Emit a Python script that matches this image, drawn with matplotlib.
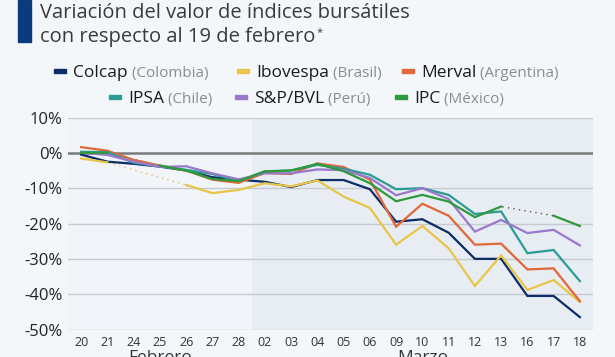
import numpy as np
import matplotlib.pyplot as plt
from matplotlib.patches import Rectangle

plt.rcParams['font.family'] = ['Open Sans', 'DejaVu Sans']

nan = np.nan
days = ['20', '21', '24', '25', '26', '27', '28', '02', '03', '04',
        '05', '06', '09', '10', '11', '12', '13', '16', '17', '18']
months = ['Febrero', 'Marzo']
month_len = [7, 13]

colcap = [-0.5, -2.5, -3.1, -3.9, -5.0, -6.9, -7.6, -8.2, -9.7, -7.7,
          -7.7, -10.3, -19.5, -18.8, -22.6, -30.0, -30.0, -40.5, -40.5, -46.5]
ibovespa = [-1.6, -2.7, nan, nan, -9.1, -11.4, -10.5, -8.6, -9.5, -7.8,
            -12.4, -15.6, -26.0, -20.7, -27.0, -37.7, -29.0, -38.8, -36.0, -42.2]
merval = [1.6, 0.6, -2.0, -3.6, -5.0, -7.6, -8.5, -5.7, -6.0, -3.0,
          -4.0, -7.6, -20.9, -14.4, -17.8, -26.0, -25.7, -33.0, -32.7, -42.0]
ipsa = [0.3, 0.2, -2.8, -3.8, -4.8, -6.0, -8.0, -5.2, -5.0, -3.4,
        -4.5, -6.2, -10.3, -10.0, -11.9, -17.3, -16.6, -28.4, -27.5, -36.3]
spbvl = [0.0, -0.6, -2.5, -4.0, -3.8, -5.8, -7.5, -5.8, -5.8, -4.7,
         -4.9, -7.1, -12.0, -10.0, -13.1, -22.3, -19.0, -22.7, -21.8, -26.2]
ipc = [0.0, 0.0, nan, -3.6, -5.0, -7.4, -8.0, -5.3, -5.0, -3.1,
       -5.2, -8.6, -13.7, -11.9, -13.8, -18.2, -15.2, nan, -17.8, -20.7]

names = ['Colcap', 'Ibovespa', 'Merval', 'IPSA', 'S&P/BVL', 'IPC']
countries = ['(Colombia)', '(Brasil)', '(Argentina)', '(Chile)', '(Perú)', '(México)']
series = [colcap, ibovespa, merval, ipsa, spbvl, ipc]
colors = ['#0d2d67', '#e8c547', '#e0683a', '#2a9d94', '#9a78cc', '#2e9a3c']
gap_colors = ['#0d2d67', '#e8c547', '#e0683a', '#2a9d94', '#9a78cc', '#555555']

W, H = 615, 357
fig = plt.figure(figsize=(W / 100, H / 100), dpi=100)
fig.patch.set_facecolor('#f4f7fa')

# title block
fig.patches.append(Rectangle((18 / W, 1 - 42 / H), 13 / W, 42 / H,
                             transform=fig.transFigure, color='#0b3a7e'))
fig.text(40 / W, 1 - 13 / H, 'Variación del valor de índices bursátiles',
         fontsize=14.5, color='#3a3a3a', va='center')
t2 = fig.text(40 / W, 1 - 37 / H, 'con respecto al 19 de febrero',
              fontsize=14.5, color='#3a3a3a', va='center')

ax = fig.add_axes([68 / W, 1 - 329.5 / H, 525 / W, 212 / H])
x = np.arange(len(days))
ax.set_xlim(-0.5, len(days) - 0.5)
ax.set_ylim(-50, 10)
ax.set_facecolor('#f1f4f8')
ax.axvspan(month_len[0] - 0.5, len(days) - 0.5, color='#e8edf4', zorder=0, lw=0)

for v in range(-50, 11, 10):
    if v == 0:
        continue
    ax.axhline(v, color='#c6cbd2', lw=1.0, zorder=1)
ax.axhline(0, color='#7a7a7a', lw=1.8, zorder=1)

for s, c, gc in zip(series, colors, gap_colors):
    y = np.array(s, dtype=float)
    ok = ~np.isnan(y)
    # dotted line bridges missing days, solid line drawn on top
    ax.plot(x[ok], y[ok], color=gc, lw=1.0, ls=(0, (1, 3)), zorder=2)
    ax.plot(x, y, color=c, lw=1.6, zorder=3, solid_joinstyle='miter')

for sp in ax.spines.values():
    sp.set_visible(False)
ax.set_xticks(x)
ax.set_xticklabels(days, fontsize=9, color='#333333')
ax.set_yticks(range(-50, 11, 10))
ax.set_yticklabels([f'{v}%' for v in range(-50, 11, 10)], fontsize=12, color='#222222')
ax.tick_params(length=0)
ax.tick_params(axis='y', pad=4)
ax.tick_params(axis='x', pad=5)

# month labels (partly below the picture edge, as in the original)
start = 0
for m, n in zip(months, month_len):
    ax.annotate(m, xy=(start + (n - 1) / 2, 0), xycoords=('data', 'axes fraction'),
                xytext=(0, -21), textcoords='offset pixels', ha='center', va='top',
                fontsize=12.5, color='#333333', annotation_clip=False)
    start += n

ax.annotate('*', xy=(1, 1), xycoords=t2, xytext=(1, 0), textcoords='offset points',
            ha='left', va='top', fontsize=8, color='#3a3a3a')

# legend drawn by hand
rows = [(71, [54, 237, 402]), (97, [109, 235, 395])]
k = 0
for ypix, xs in rows:
    for xm in xs:
        yf = 1 - ypix / H
        fig.patches.append(Rectangle((xm / W, yf - 2 / H), 12 / W, 4 / H,
                                     transform=fig.transFigure, color=colors[k]))
        nt = fig.text((xm + 19) / W, yf, names[k], fontsize=12.5, color='#1a1a1a',
                      va='center_baseline')
        ax.annotate(' ' + countries[k], xy=(1, 0), xycoords=nt, va='bottom', ha='left',
                    fontsize=11, color='#8c8c8c', annotation_clip=False)
        k += 1

fig.savefig('out.png', dpi=100, facecolor=fig.get_facecolor())
